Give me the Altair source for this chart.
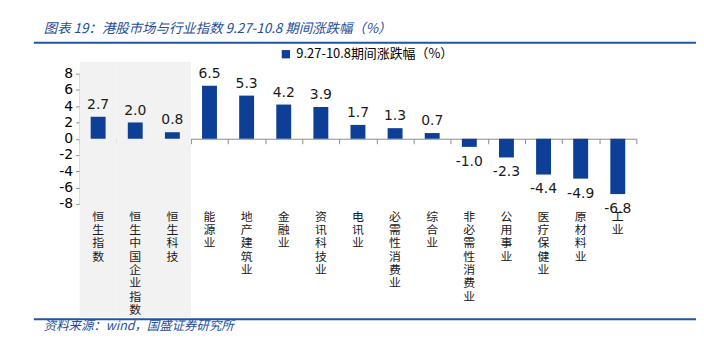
import altair as alt
import pandas as pd

cats = ["恒生指数", "恒生中国企业指数", "恒生科技", "能源业", "地产建筑业", "金融业",
        "资讯科技业", "电讯业", "必需性消费业", "综合业", "非必需性消费业", "公用事业",
        "医疗保健业", "原材料业", "工业"]
vals = [2.7, 2.0, 0.8, 6.5, 5.3, 4.2, 3.9, 1.7, 1.3, 0.7, -1.0, -2.3, -4.4, -4.9, -6.8]
highlight = cats[:3]
series_name = "9.27-10.8期间涨跌幅（%）"
title_text = "图表 19：港股市场与行业指数 9.27-10.8 期间涨跌幅（%）"
source_text = "资料来源：wind，国盛证券研究所"
y_ticks = [8, 6, 4, 2, 0, -2, -4, -6, -8]

df = pd.DataFrame({
    "cat": cats,
    "val": vals,
    "lab": [f"{v:.1f}" for v in vals],
    "vlabel": ["\n".join(list(c)) for c in cats],
    "series": [series_name] * len(cats),
    "hl": [c in highlight for c in cats],
})

W, H = 560, 257
BLUE = "#0E3F96"
TBLUE = "#1F4E9B"
NUM_FONT = "DejaVu Sans"
CJK = "Noto Sans CJK SC"

xscale = alt.Scale(paddingInner=0, paddingOuter=0)
xaxis = alt.Axis(labels=False, title=None, orient="bottom", offset=-179.5,
                 domainColor="#8c8c8c", tickColor="#8c8c8c", tickSize=5,
                 tickBand="extent", grid=False)
xenc = alt.X("cat:N", sort=cats, scale=xscale, axis=xaxis)
yscale = alt.Scale(domain=[-8, 8], range=[143, 12])
yaxis = alt.Axis(values=y_ticks, title=None, grid=False, domainColor="#8c8c8c",
                 tickColor="#8c8c8c", tickSize=4, labelFontSize=14,
                 labelFont=NUM_FONT, labelColor="#000000", labelPadding=3,
                 labelOverlap=False, labelExpr="'' + datum.value")
yenc = alt.Y("val:Q", scale=yscale, axis=yaxis)

base = alt.Chart(df)

bg = base.transform_filter("datum.hl").mark_bar(color="#F2F2F2", width={"band": 1}).encode(
    x=xenc, y=alt.value(0), y2=alt.value(H))

bars = base.mark_bar(width=15).encode(
    x=xenc, y=yenc,
    color=alt.Color("series:N", scale=alt.Scale(range=[BLUE]),
                    legend=alt.Legend(orient="none", legendX=201, legendY=-14, title=None,
                                      symbolType="square", symbolSize=70, labelFontSize=13,
                                      labelFont=CJK, labelColor="#000000",
                                      symbolStrokeWidth=0)))

pos_lab = base.transform_filter("datum.val >= 0").mark_text(
    baseline="bottom", dy=-5, fontSize=14, font=NUM_FONT, color="#1a1a1a").encode(
    x=xenc, y=yenc, text="lab:N")

neg_lab = base.transform_filter("datum.val < 0").mark_text(
    baseline="top", dy=8, fontSize=14, font=NUM_FONT, color="#1a1a1a").encode(
    x=xenc, y=yenc, text="lab:N")

cat_lab = base.mark_text(baseline="top", lineBreak="\n", lineHeight=13.4, fontSize=12,
                         font=CJK, color="#1a1a1a").encode(
    x=xenc, y=alt.value(151), text="vlabel:N")

one = alt.Data(values=[{"a": 1}])
top_line = alt.Chart(one).mark_rule(color="#1F56A5", strokeWidth=2).encode(
    x=alt.value(-46), x2=alt.value(620), y=alt.value(-19))
bot_line = alt.Chart(one).mark_rule(color="#1F56A5", strokeWidth=2).encode(
    x=alt.value(-46), x2=alt.value(620), y=alt.value(259))
title = alt.Chart(one).mark_text(align="left", baseline="middle", fontSize=13.5, font=CJK,
                                 fontStyle="italic", color=TBLUE, text=title_text).encode(
    x=alt.value(-36), y=alt.value(-33))
source = alt.Chart(one).mark_text(align="left", baseline="middle", fontSize=12.5, font=CJK,
                                  fontStyle="italic", color=TBLUE, text=source_text).encode(
    x=alt.value(-36), y=alt.value(266))

chart = alt.layer(bg, bars, pos_lab, neg_lab, cat_lab, top_line, bot_line, title, source).properties(
    width=W, height=H,
    autosize=alt.AutoSizeParams(type="none"),
    padding={"left": 72, "top": 53, "right": 60, "bottom": 34},
).configure_view(stroke=None)

chart.save("out.html", embed_options={"renderer": "svg", "actions": False})
